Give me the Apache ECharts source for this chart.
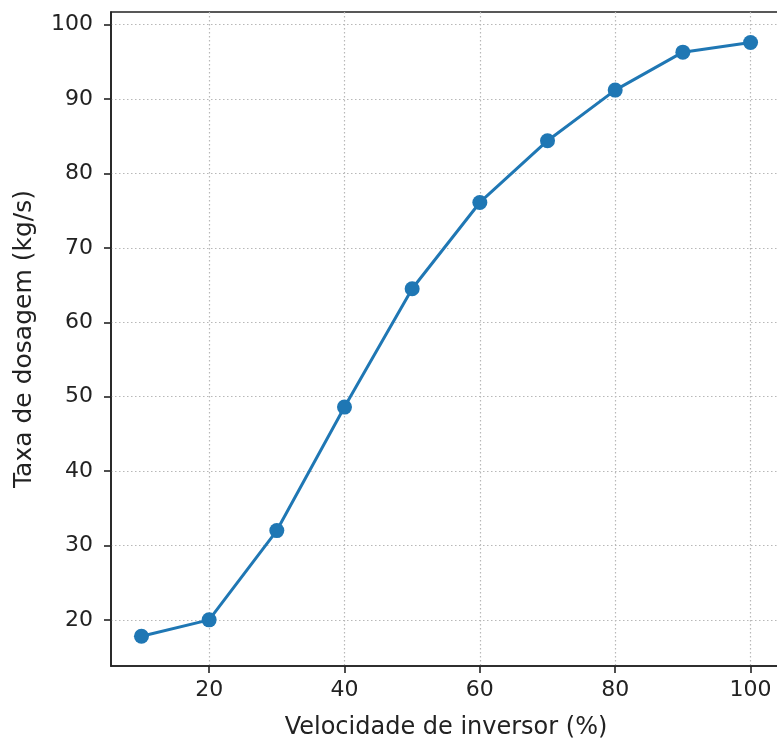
<!DOCTYPE html>
<html>
<head>
<meta charset="utf-8">
<script src="https://cdn.jsdelivr.net/npm/echarts@6/dist/echarts.min.js"></script>
<style>html,body{margin:0;padding:0;background:#fff}#c{width:777px;height:738px}</style>
</head>
<body>
<div id="c"></div>
<script>
const xValues = [10, 20, 30, 40, 50, 60, 70, 80, 90, 100];
const yValues = [17.8, 20.0, 32.0, 48.6, 64.5, 76.1, 84.4, 91.2, 96.3, 97.6];
const xTicks = [20, 40, 60, 80, 100];
const yTicks = [20, 30, 40, 50, 60, 70, 80, 90, 100];
const xTitle = 'Velocidade de inversor (%)';
const yTitle = 'Taxa de dosagem (kg/s)';

const chart = echarts.init(document.getElementById('c'), null, {renderer: 'canvas'});
const font = 'DejaVu Sans';
const txt = '#222';
chart.setOption({
  animation: false,
  backgroundColor: '#fff',
  grid: {left: 111, top: 12, width: 670, height: 654, outerBoundsMode: 'none', containLabel: false,
         show: true, borderColor: '#222', borderWidth: 1.6, backgroundColor: 'transparent'},
  xAxis: {
    type: 'value', min: 5.5, max: 104.5,
    name: xTitle, nameLocation: 'middle', nameGap: 50,
    nameTextStyle: {fontFamily: font, fontSize: 24, color: txt},
    axisLine: {show: true, lineStyle: {color: '#222', width: 1.6}},
    axisTick: {show: true, customValues: xTicks, length: 7, lineStyle: {color: '#222', width: 1.6}},
    axisLabel: {customValues: xTicks, fontFamily: font, fontSize: 22, color: txt, margin: 13},
    splitLine: {show: true, lineStyle: {color: '#b8b8b8', type: [1.5, 2.5], width: 1.2}}
  },
  yAxis: {
    type: 'value', min: 13.8, max: 101.7,
    name: yTitle, nameLocation: 'middle', nameGap: 74, nameRotate: 90,
    nameTextStyle: {fontFamily: font, fontSize: 25, color: txt},
    axisLine: {show: true, lineStyle: {color: '#222', width: 1.6}},
    axisTick: {show: true, customValues: yTicks, length: 7, lineStyle: {color: '#222', width: 1.6}},
    axisLabel: {customValues: yTicks, fontFamily: font, fontSize: 22, color: txt, margin: 18},
    splitLine: {show: true, lineStyle: {color: '#b8b8b8', type: [1.5, 2.5], width: 1.2}}
  },
  series: [{
    type: 'line',
    data: xValues.map((x, i) => [x, yValues[i]]),
    symbol: 'circle', symbolSize: 15,
    lineStyle: {color: '#1f77b4', width: 3},
    itemStyle: {color: '#1f77b4'},
    clip: false
  }]
});
</script>
</body>
</html>
